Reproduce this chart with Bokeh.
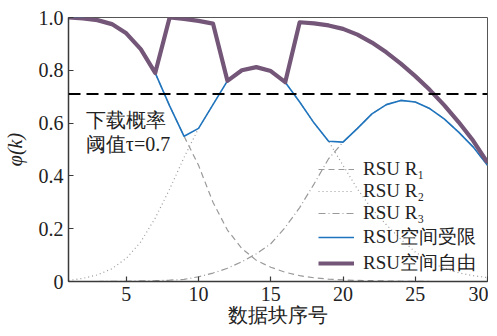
from bokeh.plotting import figure
from bokeh.models import (FixedTicker, Legend, LegendItem, Label, Span, Range1d,
                          PrintfTickFormatter, ColumnDataSource)
from bokeh.embed import file_html
from bokeh.resources import INLINE

# ---------------- data ----------------
k = list(range(1, 31))

rsu_r1 = [1.0, 0.997, 0.99, 0.975, 0.94, 0.88, 0.79, 0.665, 0.55, 0.44,
          0.30, 0.195, 0.125, 0.08, 0.054, 0.035, 0.022, 0.014, 0.009, 0.006,
          0.004, 0.003, 0.002, 0.001, 0.001, 0.0, 0.0, 0.0, 0.0, 0.0]

rsu_r2 = [0.004, 0.012, 0.025, 0.048, 0.088, 0.15, 0.24, 0.35, 0.47, 0.58,
          0.67, 0.76, 0.80, 0.812, 0.797, 0.755, 0.68, 0.60, 0.531, 0.44,
          0.35, 0.275, 0.215, 0.16, 0.112, 0.075, 0.05, 0.033, 0.022, 0.015]

rsu_r3 = [0.0, 0.0, 0.0, 0.001, 0.001, 0.002, 0.003, 0.005, 0.008, 0.018,
          0.032, 0.05, 0.075, 0.105, 0.143, 0.205, 0.28, 0.37, 0.465, 0.528,
          0.58, 0.635, 0.67, 0.686, 0.68, 0.655, 0.616, 0.566, 0.51, 0.44]

limited = [1.0, 0.997, 0.99, 0.975, 0.94, 0.88, 0.79, 0.665, 0.55, 0.58,
           0.67, 0.76, 0.80, 0.812, 0.797, 0.755, 0.68, 0.60, 0.531, 0.528,
           0.58, 0.635, 0.67, 0.686, 0.68, 0.655, 0.616, 0.566, 0.51, 0.44]

free = [1.0, 0.997, 0.99, 0.975, 0.94, 0.88, 0.79, 1.0, 0.995, 0.987,
        0.977, 0.76, 0.80, 0.812, 0.797, 0.755, 0.982, 0.978, 0.97, 0.957,
        0.935, 0.905, 0.868, 0.825, 0.778, 0.726, 0.668, 0.604, 0.534, 0.45]

threshold = 0.71

x_ticks = [5, 10, 15, 20, 25, 30]
y_ticks = [0, 0.2, 0.4, 0.6, 0.8, 1.0]

legend_labels = ["RSU R₁", "RSU R₂", "RSU R₃", "RSU空间受限", "RSU空间自由"]
x_title = "数据块序号"
y_title = "φ(k)"
note_line1 = "下载概率"
note_line2 = "阈值τ=0.7"

# ---------------- styling ----------------
SERIF = "Liberation Serif"
AXIS_COLOR = "#3a3a3a"
TEXT_COLOR = "#222222"
GRAY = "#9a9a9a"
BLUE = "#1f74be"
PURPLE = "#745678"

src = ColumnDataSource(dict(k=k, r1=rsu_r1, r2=rsu_r2, r3=rsu_r3,
                            lim=limited, free=free))

p = figure(width=488, height=332, output_backend="svg", toolbar_location=None,
           x_range=Range1d(1, 30), y_range=Range1d(0, 1.0),
           min_border_left=65, min_border_right=1, min_border_top=17,
           min_border_bottom=51)

p.background_fill_color = "white"
p.border_fill_color = "white"
p.outline_line_color = "#555555"
p.outline_line_width = 1
p.xgrid.visible = False
p.ygrid.visible = False

for ax in (p.xaxis, p.yaxis):
    ax.axis_line_color = AXIS_COLOR
    ax.axis_line_width = 1.5
    ax.major_tick_line_color = AXIS_COLOR
    ax.major_tick_line_width = 1.2
    ax.major_tick_in = 5
    ax.major_tick_out = 0
    ax.minor_tick_line_color = None
    ax.major_label_text_font = SERIF
    ax.major_label_text_font_size = "20px"
    ax.major_label_text_color = TEXT_COLOR
    ax.axis_label_text_font = SERIF
    ax.axis_label_text_font_size = "20px"
    ax.axis_label_text_color = TEXT_COLOR

p.xaxis.ticker = FixedTicker(ticks=x_ticks)
p.yaxis.ticker = FixedTicker(ticks=y_ticks)
p.yaxis.formatter = PrintfTickFormatter(format="%.1f")
p.yaxis.major_label_overrides = {0: "0"}
p.xaxis.major_label_standoff = 5
p.yaxis.major_label_standoff = 5

p.xaxis.axis_label = x_title
p.xaxis.axis_label_standoff = 0
p.xaxis.axis_label_text_font_style = "normal"
p.yaxis.axis_label = y_title
p.yaxis.axis_label_standoff = 10
p.yaxis.axis_label_text_font_style = "italic"

# threshold line
p.add_layout(Span(location=threshold, dimension="width", line_color="black",
                  line_width=2, line_dash="12 6"))

r1 = p.line("k", "r1", source=src, line_color=GRAY, line_width=1.2, line_dash="6 4")
r2 = p.line("k", "r2", source=src, line_color=GRAY, line_width=1.2, line_dash="1 3")
r3 = p.line("k", "r3", source=src, line_color=GRAY, line_width=1.2, line_dash="7 3 1 3")
rl = p.line("k", "lim", source=src, line_color=BLUE, line_width=1.6)
rf = p.line("k", "free", source=src, line_color=PURPLE, line_width=4.2,
            line_join="round")

legend = Legend(items=[LegendItem(label=lab, renderers=[r])
                       for lab, r in zip(legend_labels, [r1, r2, r3, rl, rf])],
                location=(250, 5))
legend.background_fill_alpha = 0
legend.border_line_alpha = 0
legend.padding = 0
legend.margin = 0
legend.spacing = 0
legend.glyph_width = 36
legend.glyph_height = 20
legend.label_height = 20
legend.label_standoff = 9
legend.label_text_font = SERIF
legend.label_text_font_size = "19px"
legend.label_text_color = TEXT_COLOR
p.add_layout(legend)

# notes inside the plot
for txt, yv in ((note_line1, 0.613), (note_line2, 0.519)):
    p.add_layout(Label(x=2.2, y=yv, text=txt, text_font=SERIF,
                       text_font_size="20px", text_color=TEXT_COLOR,
                       text_align="left", text_baseline="middle"))

open("out.html", "w").write(file_html(p, INLINE))
